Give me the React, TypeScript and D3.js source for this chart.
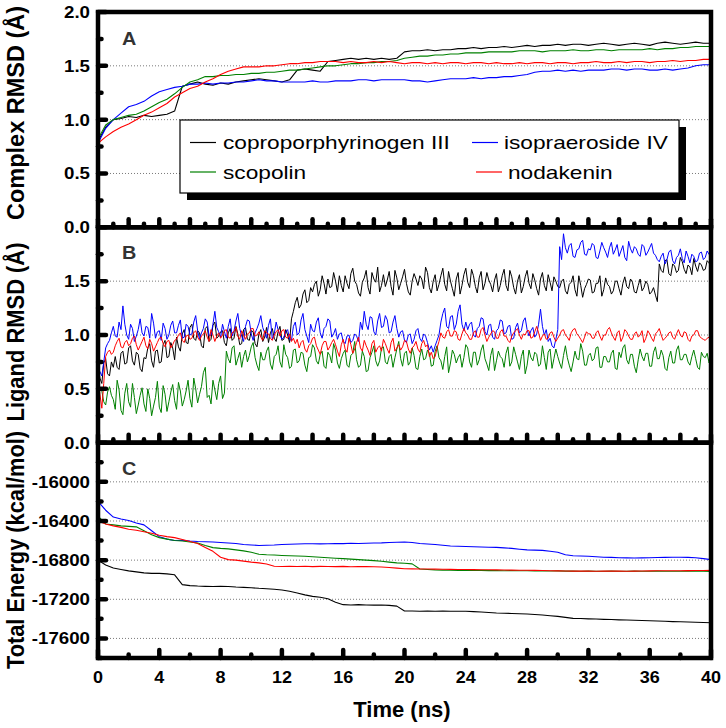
import React from 'react';
import * as d3 from 'd3';

// ---------------- data ----------------
const SERIES_NAMES = ['coproporphyrinogen III', 'isopraeroside IV', 'scopolin', 'nodakenin'];
const SERIES_COLORS = ['#000000', '#0000ff', '#008000', '#ff0000'];

const T_END = 40; // ns, every series spans 0..40 ns at an even sampling step

const TIME_MAJOR_C = [0, 4, 8, 12, 16, 20, 24, 28, 32, 36, 40];
const RMSD_LABELS_A = ['0.0', '0.5', '1.0', '1.5', '2.0'];
const RMSD_LABELS_B = ['0.0', '0.5', '1.0', '1.5'];
const ENERGY_LABELS = ['-16000', '-16400', '-16800', '-17200', '-17600'];

// Panel A : complex RMSD (Å), every 0.5 ns
const A_copro = [0.80,0.93,1.00,1.01,1.03,1.02,1.04,1.03,1.04,1.05,
  1.08,1.31,1.33,1.35,1.33,1.32,1.34,1.33,1.35,1.36,
  1.37,1.38,1.37,1.36,1.35,1.37,1.46,1.47,1.46,1.45,
  1.54,1.55,1.56,1.57,1.56,1.57,1.56,1.57,1.56,1.57,
  1.63,1.64,1.64,1.65,1.64,1.65,1.65,1.66,1.66,1.67,
  1.66,1.67,1.67,1.68,1.67,1.68,1.69,1.68,1.69,1.69,
  1.70,1.69,1.70,1.70,1.69,1.70,1.71,1.70,1.69,1.70,
  1.71,1.70,1.69,1.71,1.72,1.71,1.70,1.71,1.72,1.71,
  1.71];
const A_isopr = [0.78,0.92,1.00,1.06,1.12,1.14,1.17,1.22,1.26,1.28,
  1.30,1.31,1.33,1.33,1.34,1.33,1.34,1.34,1.35,1.35,
  1.36,1.37,1.36,1.36,1.35,1.35,1.35,1.35,1.36,1.35,
  1.35,1.36,1.36,1.36,1.37,1.37,1.36,1.37,1.37,1.37,
  1.37,1.36,1.36,1.35,1.36,1.37,1.38,1.38,1.38,1.39,
  1.38,1.39,1.39,1.40,1.40,1.41,1.42,1.44,1.45,1.45,
  1.46,1.45,1.46,1.45,1.46,1.46,1.46,1.47,1.47,1.46,
  1.47,1.47,1.46,1.46,1.47,1.46,1.47,1.48,1.50,1.51,
  1.51];
const A_scop = [0.82,0.95,1.00,1.02,1.04,1.05,1.08,1.12,1.16,1.19,
  1.24,1.30,1.35,1.37,1.40,1.40,1.41,1.41,1.42,1.42,
  1.43,1.43,1.44,1.44,1.45,1.46,1.46,1.47,1.48,1.49,
  1.50,1.50,1.51,1.52,1.52,1.53,1.53,1.54,1.54,1.55,
  1.57,1.58,1.59,1.59,1.60,1.60,1.61,1.61,1.62,1.62,
  1.62,1.63,1.63,1.63,1.63,1.64,1.64,1.64,1.63,1.64,
  1.64,1.64,1.65,1.64,1.64,1.65,1.65,1.64,1.65,1.65,
  1.65,1.65,1.66,1.65,1.66,1.66,1.67,1.67,1.68,1.68,
  1.68];
const A_noda = [0.78,0.84,0.89,0.93,0.96,1.00,1.04,1.07,1.11,1.15,
  1.21,1.25,1.29,1.31,1.35,1.38,1.42,1.45,1.47,1.49,
  1.49,1.49,1.50,1.50,1.51,1.52,1.52,1.53,1.53,1.54,
  1.54,1.54,1.53,1.54,1.53,1.53,1.54,1.53,1.54,1.53,
  1.52,1.53,1.53,1.52,1.53,1.52,1.53,1.53,1.52,1.53,
  1.53,1.52,1.53,1.52,1.52,1.53,1.52,1.53,1.53,1.52,
  1.53,1.53,1.52,1.53,1.53,1.54,1.53,1.53,1.54,1.53,
  1.54,1.54,1.53,1.54,1.54,1.55,1.54,1.55,1.55,1.56,
  1.56];

// Panel B : ligand RMSD (Å), every 0.125 ns
const B_copro = [0.72,0.60,0.55,0.74,0.78,0.64,0.62,0.75,0.70,
  0.80,0.70,0.68,0.83,0.85,0.73,0.74,0.88,0.90,0.76,0.72,0.84,0.82,0.69,0.66,0.79,
  0.78,0.88,0.92,0.76,0.70,0.85,0.86,0.74,0.75,0.91,0.95,0.79,0.80,0.93,0.88,0.77,
  0.98,0.89,0.85,1.01,1.05,0.93,0.92,1.07,1.10,0.97,0.95,1.04,1.02,0.90,0.88,1.06,1.08,0.94,0.96,1.09,1.12,0.97,0.99,1.03,
  1.04,0.93,0.90,1.02,1.06,0.95,0.97,1.08,1.01,0.91,0.92,1.05,1.07,0.96,0.95,1.04,1.03,0.92,
  0.89,1.01,1.05,0.94,0.98,1.07,0.93,1.02,1.06,0.97,0.94,1.03,1.08,0.95,0.96,1.05,1.00,0.93,
  1.15,1.22,1.30,1.35,1.25,1.28,1.38,1.42,
  1.30,1.32,1.44,1.40,
  1.47,1.50,1.36,1.42,1.55,1.48,1.38,1.52,1.44,1.45,1.58,1.50,1.40,1.55,1.46,1.40,
  1.55,1.48,1.43,1.57,1.62,1.50,1.47,1.39,1.36,1.49,
  1.53,1.60,1.44,1.38,1.58,1.52,1.49,1.63,1.40,1.46,
  1.56,1.45,1.51,1.59,1.45,1.37,1.60,1.53,1.42,1.48,
  1.54,1.61,1.48,1.40,1.37,1.50,1.57,1.52,1.46,1.55,
  1.52,1.43,1.63,1.58,1.44,1.39,1.50,1.56,1.41,1.47,
  1.55,1.62,1.47,1.41,1.59,1.50,1.43,1.36,1.52,1.58,
  1.38,1.46,1.56,1.62,1.49,1.44,1.61,1.55,1.45,1.39,
  1.53,1.59,1.42,1.48,1.58,1.51,1.47,1.40,1.51,1.57,
  1.40,1.46,1.55,1.61,1.46,1.41,1.60,1.54,1.44,1.38,
  1.50,1.56,1.39,1.45,1.54,1.60,1.48,1.43,1.57,1.51,
  1.43,1.37,1.52,1.58,1.46,1.41,1.56,1.49,1.41,1.54,
  1.50,1.45,
  1.44,1.50,1.52,1.41,1.38,1.47,1.49,1.55,1.42,1.36,
  1.55,1.46,1.35,1.43,1.47,1.52,1.51,1.39,1.40,1.48,
  1.48,1.55,1.36,1.42,1.53,1.47,1.45,1.38,1.41,1.50,
  1.50,1.43,1.37,1.48,1.54,1.45,1.43,1.52,1.49,1.40,
  1.39,1.46,1.52,1.41,1.44,1.50,1.47,1.38,1.40,1.44,
  1.37,1.31,
  1.66,1.60,1.58,1.69,1.70,1.57,1.55,1.66,1.64,1.58,
  1.60,1.72,1.68,1.61,1.57,1.65,1.63,1.56,1.71,1.64,
  1.59,1.67,1.65,1.60,1.61,1.69,1.67,1.62];
const B_isopr = [0.70,0.66,0.62,0.75,0.88,0.92,
  0.95,1.02,1.08,0.99,0.98,1.12,1.05,1.27,1.10,1.00,
  0.96,1.10,1.06,0.94,0.99,1.05,1.15,1.02,0.99,1.08,
  1.07,0.97,1.20,1.11,0.97,1.03,1.04,0.95,1.11,1.06,
  0.96,1.00,1.09,1.13,1.02,
  1.02,1.09,1.14,0.97,0.98,1.10,1.08,1.00,1.01,1.12,1.18,1.04,0.96,1.02,1.06,1.15,1.12,0.99,1.00,1.10,1.22,1.07,1.03,0.98,
  1.10,1.03,0.97,1.08,1.15,0.99,1.04,1.13,1.20,1.06,0.99,0.94,1.08,1.14,1.13,1.01,
  0.95,1.02,1.06,1.11,1.18,1.07,1.02,0.97,1.09,1.15,0.96,1.01,1.12,1.05,1.00,0.96,
  0.98,1.03,1.05,0.96,0.95,1.08,1.12,1.00,1.02,1.14,1.20,1.05,0.99,0.93,
  1.10,1.04,1.03,1.12,1.16,1.02,0.97,1.06,1.08,1.15,1.13,0.98,1.01,1.06,
  0.96,1.01,1.02,0.94,0.92,0.99,1.00,0.93,0.95,1.01,0.99,0.94,
  1.12,1.05,1.22,1.10,1.05,1.17,1.16,1.03,1.00,1.13,1.20,1.07,1.08,1.18,1.14,1.02,1.03,1.12,1.18,1.06,
  0.98,1.03,1.04,0.95,0.93,1.00,1.01,0.92,0.96,1.04,1.06,0.97,0.94,1.01,0.99,0.93,
  0.86,0.90,0.84,0.90,0.95,1.00,
  1.12,1.20,1.25,1.08,1.06,1.17,1.18,1.05,1.10,1.22,1.28,1.10,1.04,1.12,
  1.05,1.10,1.12,1.00,0.98,1.06,1.08,1.16,1.15,1.03,
  1.00,1.09,1.10,0.98,0.96,1.04,1.06,1.14,1.13,1.01,
  1.02,1.08,1.09,0.96,0.97,1.07,1.11,1.02,1.04,1.13,
  1.16,1.05,0.99,1.04,1.07,0.98,1.01,1.10,1.24,1.08,
  1.00,1.05,0.94,0.97,0.90,0.88,0.96,1.05,
  1.82,1.70,1.94,1.81,1.76,1.83,1.85,1.73,1.72,1.79,
  1.80,1.86,1.88,1.75,1.74,1.80,1.79,1.85,1.83,1.72,
  1.71,1.78,1.86,1.81,1.77,1.72,1.81,1.86,1.75,1.79,
  1.84,1.73,1.78,1.83,1.72,1.69,1.87,1.80,1.76,1.82,
  1.80,1.75,1.73,1.84,1.82,1.74,1.77,1.81,1.85,1.76,
  1.74,1.70,
  1.68,1.73,1.76,1.66,1.70,1.77,1.79,1.69,1.66,1.72,
  1.74,1.80,1.71,1.67,1.78,1.73,1.67,1.75,1.73,1.68,
  1.69,1.76,1.77,1.70,1.72,1.78,1.75,1.71];
const B_scop = [0.55,0.50,0.48,0.38,0.35,0.47,0.52,0.44,0.40,0.31,
  0.58,0.49,0.30,0.26,0.46,0.55,0.38,0.33,0.55,0.42,
  0.27,0.35,0.44,0.51,0.36,0.29,0.50,0.41,0.25,0.34,
  0.42,0.57,0.33,0.28,0.53,0.45,0.29,0.38,0.47,0.54,
  0.39,0.31,0.56,0.48,0.34,0.40,0.48,0.58,0.41,0.33,
  0.60,0.50,0.37,0.45,0.52,0.65,0.70,0.42,0.44,0.36,
  0.58,0.49,0.40,0.55,0.62,0.41,0.46,
  0.85,0.78,0.74,0.88,0.90,0.72,0.78,0.84,0.70,0.80,
  0.86,0.75,0.81,0.89,0.93,0.79,0.72,0.67,0.84,0.77,
  0.77,0.85,0.89,0.73,0.68,0.80,0.82,0.90,0.75,0.70,
  0.91,0.82,0.79,0.69,0.71,0.86,0.87,0.74,0.76,0.84,
  0.83,0.72,0.66,0.79,0.80,0.91,0.88,0.76,0.73,0.82,
  0.85,0.71,0.69,0.84,0.81,0.74,0.92,0.86,0.74,0.69,
  0.78,0.83,0.86,0.72,0.70,0.81,0.83,0.94,0.77,0.70,
  0.72,0.85,0.80,0.66,0.67,0.79,0.84,0.90,0.76,0.71,
  0.76,0.88,0.89,0.75,0.73,0.80,0.82,0.70,0.79,0.87,
  0.94,0.78,0.71,0.83,0.85,0.72,0.75,0.88,0.81,0.69,
  0.68,0.80,0.87,0.77,0.78,0.86,0.83,0.71,0.72,0.85,
  0.90,0.79,0.76,0.68,0.80,0.89,0.65,0.74,0.86,0.82,
  0.74,0.79,0.82,0.70,0.79,0.91,0.88,0.75,0.70,0.84,
  0.84,0.72,0.77,0.86,0.91,0.78,0.73,0.67,0.81,0.88,
  0.67,0.76,0.85,0.80,0.78,0.70,0.83,0.89,0.71,0.75,
  0.89,0.82,0.75,0.68,0.80,0.86,0.64,0.72,0.86,0.79,
  0.76,0.84,0.82,0.71,0.73,0.90,0.79,0.68,0.84,0.87,
  0.69,0.78,0.87,0.80,0.74,0.69,0.81,0.90,0.79,0.72,
  0.66,0.75,0.85,0.78,0.77,0.92,0.85,0.72,0.72,0.81,
  0.83,0.76,0.78,0.88,0.89,0.70,0.70,0.80,0.80,0.75,
  0.75,0.83,0.86,0.69,0.68,0.84,0.79,0.88,0.91,0.77,
  0.73,0.82,0.82,0.71,0.65,0.77,0.87,0.80,0.76,0.83,
  0.83,0.71,0.71,0.84,0.89,0.78,0.78,0.86,0.81,0.69,
  0.67,0.79,0.85,0.74,0.74,0.86,0.90,0.77,0.77,0.82,
  0.82,0.75,0.72,0.80,0.86,0.78,0.70,0.68,0.84,0.80,
  0.79,0.83,0.74,0.79];
const B_noda = [0.62,0.45,0.32,0.55,0.80,0.84,
  0.86,0.82,0.84,
  0.90,0.94,0.97,0.89,0.88,0.93,0.95,0.90,0.92,0.97,
  0.99,0.91,0.86,0.90,0.94,0.98,0.90,0.87,0.96,0.92,
  0.85,0.89,0.93,0.97,0.98,0.92,0.89,0.94,0.95,0.88,
  0.91,0.95,
  0.96,1.00,1.02,0.95,0.93,0.99,1.00,0.96,0.97,1.02,1.04,0.98,0.95,0.99,1.01,1.04,0.98,0.94,1.05,1.00,0.94,0.99,1.02,0.97,
  1.00,1.04,1.05,0.98,0.97,1.02,1.03,1.07,0.99,0.96,
  1.04,1.00,0.96,1.01,1.02,1.06,1.06,0.99,1.00,1.03,
  0.98,0.95,1.04,1.02,1.01,0.97,0.95,1.00,1.03,1.05,
  0.99,1.04,1.05,0.98,0.97,1.01,0.94,0.97,0.92,0.96,
  0.88,0.93,0.95,0.87,0.84,0.90,0.92,0.97,0.98,0.90,
  0.86,0.82,0.90,0.94,0.94,0.86,0.89,0.93,0.96,0.91,
  0.85,0.80,0.91,0.96,0.87,0.84,0.97,0.91,0.83,0.87,
  0.93,0.98,0.88,0.85,0.95,0.90,0.86,0.81,0.92,0.95,
  0.84,0.88,0.90,0.85,0.96,0.92,0.87,0.83,0.93,0.97,
  0.85,0.88,0.91,0.86,0.89,0.95,0.94,0.87,0.83,0.88,
  0.90,0.94,0.87,0.84,0.92,0.95,0.89,0.91,
  0.80,0.84,0.78,0.80,0.88,0.94,
  1.02,0.98,0.97,1.03,1.05,0.99,0.99,1.04,1.03,0.96,
  0.95,1.01,1.06,1.02,1.00,0.96,0.96,1.02,1.04,0.98,
  0.98,1.05,1.07,1.00,0.94,0.98,1.01,1.04,1.03,0.97,
  0.97,1.03,1.05,0.99,0.99,0.95,0.93,0.99,1.02,1.04,
  1.06,1.00,0.96,1.01,1.00,1.04,1.04,0.97,0.98,1.03,
  1.08,1.02,0.95,0.99,1.01,0.96,0.97,1.02,1.03,0.98,
  0.94,0.97,1.00,1.04,1.05,1.00,0.98,0.95,1.02,1.05,
  1.06,1.01,0.99,0.96,0.93,0.98,1.03,1.01,1.01,0.97,
  0.97,1.02,1.04,0.99,0.95,1.00,1.00,1.05,1.07,1.02,
  0.98,0.95,1.02,1.04,0.94,0.98,1.05,1.03,0.99,0.96,
  0.96,1.01,1.03,0.98,1.00,1.04,0.93,0.97,1.04,1.01,
  0.97,0.94,1.01,1.03,1.06,1.00,0.95,0.97,0.99,1.02,
  1.03,0.98,0.96,1.01,1.05,1.00,0.98,1.03,1.02,0.96,
  0.94,0.99,1.00,1.04,1.04,0.99,0.97,0.96,0.95,0.97,
  0.98,0.95];

// Panel C : total energy (kcal/mol), every 0.5 ns
const C_copro = [-16800,-16850,-16880,-16895,-16910,-16920,-16930,-16935,-16935,-16940,
  -16950,-17050,-17060,-17065,-17068,-17070,-17068,-17070,-17075,-17078,
  -17082,-17088,-17092,-17098,-17105,-17118,-17135,-17155,-17170,-17180,
  -17195,-17230,-17255,-17258,-17255,-17258,-17260,-17258,-17262,-17270,
  -17320,-17320,-17322,-17321,-17322,-17320,-17322,-17323,-17322,-17326,
  -17330,-17335,-17340,-17342,-17345,-17348,-17350,-17355,-17360,-17368,
  -17375,-17385,-17395,-17397,-17400,-17402,-17405,-17407,-17410,-17412,
  -17415,-17417,-17420,-17422,-17425,-17428,-17430,-17432,-17435,-17438,
  -17440];
const C_isopr = [-16200,-16290,-16360,-16380,-16395,-16420,-16440,-16500,-16560,-16585,
  -16600,-16598,-16605,-16610,-16612,-16615,-16620,-16625,-16630,-16640,
  -16645,-16650,-16648,-16645,-16640,-16638,-16635,-16633,-16632,-16634,
  -16632,-16630,-16631,-16628,-16630,-16627,-16625,-16624,-16620,-16618,
  -16615,-16620,-16630,-16635,-16640,-16648,-16655,-16658,-16660,-16663,
  -16665,-16668,-16670,-16675,-16680,-16688,-16695,-16698,-16700,-16710,
  -16720,-16745,-16755,-16758,-16760,-16765,-16770,-16772,-16775,-16777,
  -16778,-16777,-16775,-16773,-16772,-16771,-16770,-16772,-16775,-16785,
  -16795];
const C_scop = [-16350,-16430,-16440,-16450,-16455,-16460,-16500,-16540,-16570,-16585,
  -16600,-16605,-16615,-16625,-16650,-16672,-16680,-16685,-16695,-16705,
  -16720,-16740,-16745,-16748,-16752,-16755,-16758,-16760,-16765,-16770,
  -16775,-16780,-16785,-16790,-16795,-16800,-16805,-16812,-16820,-16828,
  -16832,-16838,-16890,-16895,-16900,-16902,-16903,-16905,-16904,-16906,
  -16905,-16907,-16906,-16908,-16907,-16909,-16908,-16910,-16909,-16911,
  -16910,-16912,-16911,-16913,-16912,-16914,-16913,-16912,-16914,-16913,
  -16912,-16914,-16913,-16912,-16913,-16914,-16913,-16912,-16913,-16914,
  -16915];
const C_noda = [-16400,-16430,-16450,-16465,-16485,-16495,-16510,-16525,-16545,-16560,
  -16570,-16590,-16610,-16630,-16670,-16710,-16770,-16795,-16800,-16810,
  -16820,-16828,-16840,-16862,-16865,-16862,-16865,-16863,-16866,-16864,
  -16865,-16866,-16864,-16867,-16865,-16866,-16868,-16870,-16875,-16882,
  -16888,-16889,-16890,-16891,-16892,-16893,-16894,-16895,-16896,-16897,
  -16898,-16899,-16900,-16901,-16902,-16903,-16904,-16905,-16906,-16908,
  -16910,-16911,-16912,-16911,-16912,-16913,-16912,-16911,-16912,-16913,
  -16912,-16911,-16910,-16909,-16908,-16909,-16908,-16907,-16906,-16906,
  -16905];

// ---------------- layout ----------------
const W = 726, H = 728;
const X0 = 98, X1 = 711;
const FONT = "'Liberation Sans', Arial, Helvetica, sans-serif";
const FRAME_W = 4.5;

const x = d3.scaleLinear().domain([0, T_END]).range([X0, X1]);

type Panel = {
  key: string; letter: string; top: number; bottom: number;
  y: d3.ScaleLinear<number, number>; series: number[][]; lineW: number;
  major: number[]; minor: number[]; labels: string[];
  xMajor: number[]; xMinor: number[]; title: string; titleCy: number; titleLen: number;
};

const evenRange = (a: number, b: number, s: number) => d3.range(a, b + 1e-9, s);

const panels: Panel[] = [
  {
    key: 'A', letter: 'A', top: 12, bottom: 227.3,
    y: d3.scaleLinear().domain([0, 2]).range([227.3, 12]),
    series: [A_copro, A_isopr, A_scop, A_noda], lineW: 1.1,
    major: RMSD_LABELS_A.map(Number), minor: [0.25, 0.75, 1.25, 1.75], labels: RMSD_LABELS_A,
    xMajor: evenRange(0, 40, 2), xMinor: evenRange(1, 39, 2),
    title: 'Complex RMSD (Å)', titleCy: 113, titleLen: 214,
  },
  {
    key: 'B', letter: 'B', top: 227.3, bottom: 442.7,
    y: d3.scaleLinear().domain([0, 2]).range([442.7, 227.3]),
    series: [B_copro, B_isopr, B_scop, B_noda], lineW: 1.0,
    major: RMSD_LABELS_B.map(Number), minor: [0.25, 0.75, 1.25, 1.75], labels: RMSD_LABELS_B,
    xMajor: evenRange(0, 40, 2), xMinor: evenRange(1, 39, 2),
    title: 'Ligand RMSD (Å)', titleCy: 332, titleLen: 179,
  },
  {
    key: 'C', letter: 'C', top: 442.7, bottom: 658,
    y: d3.scaleLinear().domain([-17800, -15600]).range([658, 442.7]),
    series: [C_copro, C_isopr, C_scop, C_noda], lineW: 1.1,
    major: ENERGY_LABELS.map(Number), minor: [-17800, -17400, -17000, -16600, -16200, -15800], labels: ENERGY_LABELS,
    xMajor: TIME_MAJOR_C, xMinor: evenRange(2, 38, 4),
    title: 'Total Energy (kcal/mol)', titleCy: 550, titleLen: 238,
  },
];

function PanelView({ p }: { p: Panel }) {
  const clipId = `clip-${p.key}`;
  const letterY = p.top + (p.key === 'A' ? 33 : 32);
  return (
    <g>
      <defs>
        <clipPath id={clipId}>
          <rect x={X0} y={p.top} width={X1 - X0} height={p.bottom - p.top} />
        </clipPath>
      </defs>
      {p.major.filter((v) => p.y(v) > p.top + 3 && p.y(v) < p.bottom - 3).map((v) => (
        <line key={`g${v}`} x1={X0} x2={X1} y1={p.y(v)} y2={p.y(v)}
          stroke="#7a7a7a" strokeWidth={1} strokeDasharray="1 2" />
      ))}
      <g clipPath={`url(#${clipId})`}>
        {p.series.map((s, i) => {
          const step = T_END / (s.length - 1);
          const gen = d3.line<number>().x((_, j) => x(j * step)).y((d) => p.y(d));
          return (
            <path key={i} d={gen(s) || ''} fill="none" stroke={SERIES_COLORS[i]}
              strokeWidth={p.lineW} strokeLinejoin="round" />
          );
        })}
      </g>
      {p.major.map((v) => (
        <line key={`lm${v}`} x1={X0} x2={X0 + 8} y1={p.y(v)} y2={p.y(v)}
          stroke="#000" strokeWidth={4.5} strokeLinecap="round" />
      ))}
      {p.minor.map((v) => (
        <line key={`ln${v}`} x1={X0} x2={X0 + 3.5} y1={p.y(v)} y2={p.y(v)}
          stroke="#000" strokeWidth={4.5} strokeLinecap="round" />
      ))}
      {p.xMajor.map((t) => (
        <line key={`bm${t}`} x1={x(t)} x2={x(t)} y1={p.bottom} y2={p.bottom - 8}
          stroke="#000" strokeWidth={4.5} strokeLinecap="round" />
      ))}
      {p.xMinor.map((t) => (
        <line key={`bn${t}`} x1={x(t)} x2={x(t)} y1={p.bottom} y2={p.bottom - 3.5}
          stroke="#000" strokeWidth={4.5} strokeLinecap="round" />
      ))}
      <rect x={X0} y={p.top} width={X1 - X0} height={p.bottom - p.top}
        fill="none" stroke="#000" strokeWidth={FRAME_W} />
      {p.labels.map((lab) => {
        const v = Number(lab);
        return (
          <text key={`t${lab}`} transform={`translate(90,${p.y(v) + 6}) scale(1.1,1)`}
            textAnchor="end" fontFamily={FONT} fontWeight="bold" fontSize={17} fill="#000">
            {lab}
          </text>
        );
      })}
      <text transform={`translate(122,${letterY}) scale(1.1,1)`} fontFamily={FONT}
        fontWeight="bold" fontSize={18} fill="#333">{p.letter}</text>
      <text transform={`translate(24,${p.titleCy}) rotate(-90)`} textAnchor="middle"
        fontFamily={FONT} fontWeight="bold" fontSize={24} fill="#000"
        textLength={p.titleLen} lengthAdjust="spacingAndGlyphs">{p.title}</text>
    </g>
  );
}

function Legend() {
  const bx = 180, by = 120, bw = 499, bh = 73;
  const rows = [
    { i: 0, lx: 190, tx: 223, y: 142.5 },
    { i: 1, lx: 472, tx: 504, y: 142.5 },
    { i: 2, lx: 190, tx: 223, y: 172 },
    { i: 3, lx: 476, tx: 508, y: 172 },
  ];
  return (
    <g>
      <rect x={bx + 7} y={by + 7} width={bw} height={bh} fill="#000" />
      <rect x={bx} y={by} width={bw} height={bh} fill="#fff" stroke="#000" strokeWidth={1.2} />
      {rows.map((r) => (
        <g key={r.i}>
          <line x1={r.lx} x2={r.lx + 26} y1={r.y} y2={r.y} stroke={SERIES_COLORS[r.i]} strokeWidth={1.2} />
          <text transform={`translate(${r.tx},${r.y + 6.5}) scale(1.26,1)`} fontFamily={FONT}
            fontSize={18} fill="#000">{SERIES_NAMES[r.i]}</text>
        </g>
      ))}
    </g>
  );
}

export default function App() {
  return (
    <svg width={W} height={H} viewBox={`0 0 ${W} ${H}`}
      style={{ position: 'absolute', left: 0, top: 0, display: 'block', background: '#fff' }}>
      <rect x={0} y={0} width={W} height={H} fill="#fff" />
      {panels.map((p) => <PanelView key={p.key} p={p} />)}
      <Legend />
      {TIME_MAJOR_C.map((t) => (
        <text key={`xt${t}`} transform={`translate(${x(t)},682.5) scale(1.06,1)`} textAnchor="middle"
          fontFamily={FONT} fontWeight="bold" fontSize={17} fill="#000">{t}</text>
      ))}
      <text x={402} y={717} textAnchor="middle" fontFamily={FONT} fontWeight="bold"
        fontSize={22} fill="#000">Time (ns)</text>
    </svg>
  );
}
